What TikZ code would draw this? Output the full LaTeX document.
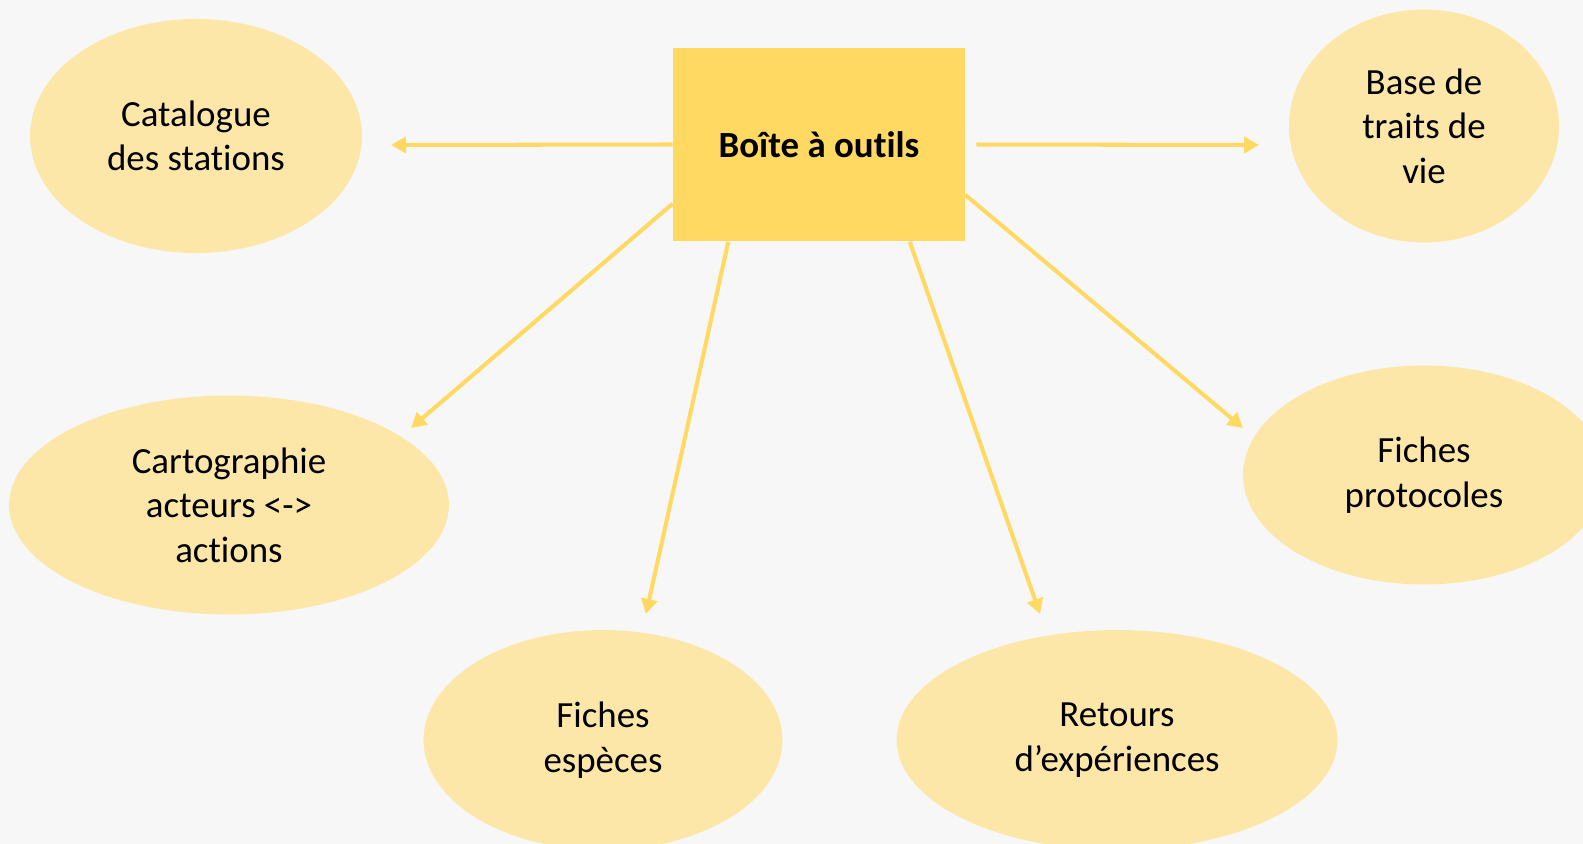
\documentclass[tikz,border=0pt]{standalone}
\usepackage{fontspec}
\setmainfont[RawFeature={-liga;-clig;-calt;-dlig;-rlig}]{Carlito}
\usetikzlibrary{shapes.geometric,arrows.meta}
\definecolor{fondo}{HTML}{F7F7F7}
\definecolor{oro}{HTML}{FFD961}
\definecolor{orosuave}{HTML}{FCE7A9}
\begin{document}
\begin{tikzpicture}[
    x=0.02cm,
    y=-0.02cm,
    font=\fontsize{21}{25.3}\selectfont,
    caja/.style={rectangle,fill=oro,inner sep=0pt,font=\fontsize{21}{25.3}\selectfont\bfseries},
    hoja/.style={ellipse,fill=orosuave,inner sep=0pt,align=center},
    flecha/.style={oro,line width=2.3pt,-{Triangle[length=0.3cm,width=0.32cm]}}
]
    % Fondo y recorte
    \useasboundingbox (0,0) rectangle (1583,844);
    \clip (0,0) rectangle (1583,844);
    \fill[fondo] (0,0) rectangle (1583,844);

    % Caja central
    \node[caja,minimum width=5.84cm,minimum height=3.88cm] (box) at (819,144.5) {Boîte à outils};

    % Elipses
    \node[hoja,minimum width=6.64cm,minimum height=4.68cm] (cat) at (196,136) {Catalogue\\des stations};
    \node[hoja,minimum width=5.4cm,minimum height=4.66cm] (base) at (1424,126) {Base de\\traits de\\vie};
    \node[hoja,minimum width=8.8cm,minimum height=4.38cm] (carto) at (229,505) {Cartographie\\acteurs <->\\actions};
    \node[hoja,minimum width=7.24cm,minimum height=4.38cm] (proto) at (1424,475) {Fiches\\protocoles};
    \node[hoja,minimum width=7.18cm,minimum height=4.4cm] (esp) at (603,740) {Fiches\\espèces};
    \node[hoja,minimum width=8.82cm,minimum height=4.4cm] (ret) at (1117,740) {Retours\\d’expériences};

    % Puntas de las flechas
    \coordinate (tcat) at (391,145);
    \coordinate (tbase) at (1259,145);
    \coordinate (tcarto) at (411,428);
    \coordinate (tesp) at (646,614);
    \coordinate (tret) at (1040,614);
    \coordinate (tproto) at (1243,428);

    % Flechas
    \draw[flecha] (box.west) -- (tcat);
    \draw[flecha,shorten <=0.22cm] (box.east) -- (tbase);
    \draw[flecha] (box.202) -- (tcarto);
    \draw[flecha] (box.227) -- (tesp);
    \draw[flecha] (box.313) -- (tret);
    \draw[flecha] (box.341) -- (tproto);
\end{tikzpicture}
\end{document}
